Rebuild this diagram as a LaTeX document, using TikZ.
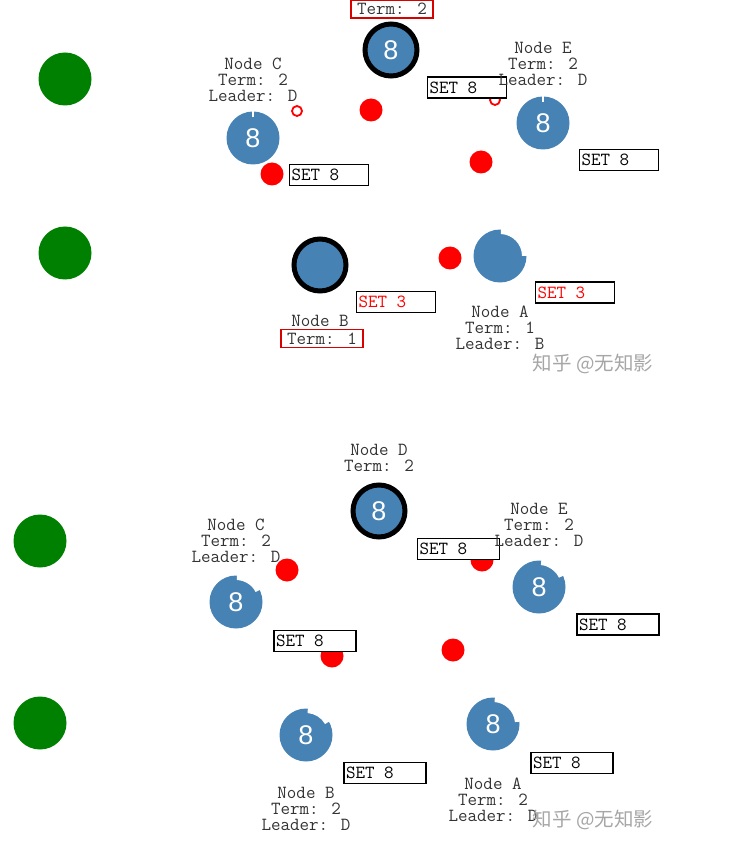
\documentclass[tikz,border=0pt]{standalone}
\usepackage{fontspec}
\setmainfont{Liberation Sans}
\newfontfamily\cjkfont{Noto Sans CJK SC}
\usetikzlibrary{positioning,calc}
\definecolor{peerblue}{HTML}{4682B4}
\definecolor{clientgreen}{HTML}{008000}
\tikzset{
  peer/.style={
    circle, fill=peerblue, minimum size=53pt, inner sep=0pt,
    text=white, font=\fontsize{27}{27}\selectfont
  },
  leader/.style={peer, draw=black, line width=5pt, minimum size=52pt},
  client/.style={circle, fill=clientgreen, minimum size=53pt, inner sep=0pt},
  msg/.style={circle, fill=red, minimum size=23pt, inner sep=0pt},
  ack/.style={circle, draw=red, line width=1.8pt, minimum size=10pt, inner sep=0pt},
  setbox/.style={
    draw=black, line width=1.3pt, fill=white,
    minimum height=21pt, inner xsep=2pt, inner ysep=0pt,
    font=\ttfamily\fontsize{18.5}{16}\selectfont
  },
  lbl/.style={
    align=center, inner sep=0pt, text=black!80,
    font=\ttfamily\fontsize{18.5}{16}\selectfont
  },
  termbox/.style={lbl, draw=red!85!black, line width=1.6pt, inner xsep=6pt, inner ysep=3pt},
  wmark/.style={text=black!35, font=\cjkfont\fontsize{19.5}{19.5}\selectfont}
}
% left-set message text in a box of fixed width
\newcommand{\setmsg}[2][75pt]{\makebox[#1][l]{#2}}
% recessed rim between two angles (y axis points down)
\newcommand{\recess}[3]{%
  \fill[white] ($(#1)+(-#2:22)$) arc[start angle=-#2, end angle=-#3, radius=22]
    -- ($(#1)+(-#3:28)$) arc[start angle=-#3, end angle=-#2, radius=28] -- cycle;}
% thin slit in the rim
\newcommand{\slit}[2]{%
  \draw[white, line width=2pt] ($(#1)+(-#2:21)$) -- ($(#1)+(-#2:28)$);}

\begin{document}
\begin{tikzpicture}[x=1pt, y=-1pt]
  \useasboundingbox (0,0) rectangle (732,858);

  % clients
  \node[client] (cl1) at (65,79) {};
  \node[client] (cl2) at (65,253) {};
  \node[client] (cl3) at (40,541) {};
  \node[client] (cl4) at (40,723) {};

  % first snapshot
  \node[leader] (dTop) at (391,50) {8};
  \node[peer] (cTop) at (253,138) {8};
  \node[peer] (eTop) at (543,123) {8};
  \node[leader] (bTop) at (320,265) {};
  \node[peer] (aTop) at (500,256) {};
  \slit{cTop}{90}
  \slit{eTop}{90}
  \recess{aTop}{0}{88}

  \node[ack] (ackC) at (297,111) {};
  \node[ack] (ackE) at (495,100) {};
  \node[msg] (m1) at (371,110) {};
  \node[msg] (m2) at (272,174) {};
  \node[msg] (m3) at (481,162) {};
  \node[msg] (m4) at (450,258) {};

  \node[setbox] (s1) at (467,87.5) {\setmsg{SET 8}};
  \node[setbox] (s2) at (329,175) {\setmsg{SET 8}};
  \node[setbox] (s3) at (619,160) {\setmsg{SET 8}};
  \node[setbox, text=red] (s4) at (396,302) {\setmsg{SET 3}};
  \node[setbox, text=red] (s5) at (575,292.5) {\setmsg{SET 3}};

  \node[termbox] (dTerm) at (392,9) {Term: 2};
  \node[lbl] (cLbl) at (253,80) {Node C\\Term: 2\\Leader: D};
  \node[lbl] (eLbl) at (543,64) {Node E\\Term: 2\\Leader: D};
  \node[lbl] (bLbl) at (320,321) {Node B};
  \node[termbox] (bTerm) at (322,338.5) {Term: 1};
  \node[lbl] (aLbl) at (500,328) {Node A\\Term: 1\\Leader: B};
  \node[wmark] (wm1) at (593,364) {知乎 @无知影};

  % second snapshot
  \node[leader] (dBot) at (379,511) {8};
  \node[peer] (cBot) at (236,602) {8};
  \node[peer] (eBot) at (539,587) {8};
  \node[peer] (bBot) at (306,735) {8};
  \node[peer] (aBot) at (493,724) {8};
  \recess{eBot}{25}{85}
  \recess{cBot}{27}{88}
  \recess{bBot}{30}{86}
  \recess{aBot}{5}{86}

  \node[msg] (m5) at (287,570) {};
  \node[msg] (m6) at (482,560) {};
  \node[msg] (m7) at (332,656) {};
  \node[msg] (m8) at (453,650) {};

  \node[setbox] (s6) at (458.5,549) {\setmsg[78pt]{SET 8}};
  \node[setbox] (s7) at (618,624.5) {\setmsg[78pt]{SET 8}};
  \node[setbox] (s8) at (315,641) {\setmsg[78pt]{SET 8}};
  \node[setbox] (s9) at (385,773) {\setmsg[78pt]{SET 8}};
  \node[setbox] (s10) at (572,763) {\setmsg[78pt]{SET 8}};

  \node[lbl] (dLbl) at (379,458) {Node D\\Term: 2};
  \node[lbl] (eLbl2) at (539,525) {Node E\\Term: 2\\Leader: D};
  \node[lbl] (cLbl2) at (236,541) {Node C\\Term: 2\\Leader: D};
  \node[lbl] (bLbl2) at (306,809) {Node B\\Term: 2\\Leader: D};
  \node[lbl] (aLbl2) at (493,800) {Node A\\Term: 2\\Leader: D};
  \node[wmark] (wm2) at (593,820) {知乎 @无知影};
\end{tikzpicture}
\end{document}
